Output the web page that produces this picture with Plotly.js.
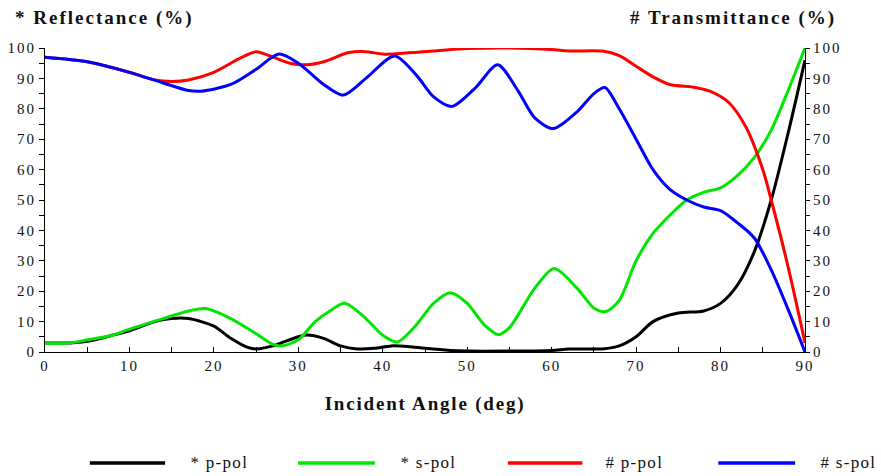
<!DOCTYPE html>
<html>
<head>
<meta charset="utf-8">
<script src="https://cdn.plot.ly/plotly-3.0.1.min.js"></script>
<style>
html,body{margin:0;padding:0;background:#fff;}
#chart{width:881px;height:476px;}
#chart g.xtick text, #chart g.ytick text, #chart g.y2tick text{letter-spacing:2px;}
#chart g.annotation text{letter-spacing:1.3px;}
#chart g.annotation.ttl text{letter-spacing:2px;}
#chart text.xtitle{letter-spacing:1.8px;}
</style>
</head>
<body>
<div id="chart"></div>
<script>
// Incident angle (deg)
const angP = [0,3,5,8,10,13,15,17,20,22,24,25,27,28,30,31,33,35,37,39,41,43,45,48,50,55,60,62,64,66,68,70,72,75,78,80,82,84,86,88,90];
const reflP = [3,3,3.5,5.5,7,10,11,11,8.5,4.5,1.5,1,2,3,5,5.6,4.5,2,1,1.2,2,1.8,1.2,0.5,0.3,0.3,0.5,1,1,1,2,5,10,12.8,13.5,16,22,33,50,72,96];

const angS = [0,3,5,8,10,14,17,19,22,25,27,28,30,32,34,35.5,38,40,41.7,44,46,48,50,52,53.7,55,58,60.3,63,65,66.4,68,70,72,74,76,78,80,82,84,86,88,90];
const reflS = [3,3,4,5.5,7.5,11,13.5,14.3,11,6,2.5,2,4,10,14,16,11,5.5,3.3,9,16,19.5,16,9,5.7,8,21,27.5,21,14.5,13.3,17,30,39,45,50,52.5,54,58,64,73,86,100];

const angTP = [0,5,10,13,15,17,20,23,25,27,29,31,33,36,38,40,42,46,50,55,60,62,66,68,70,72,74,77,79,81,83,85,86,88,90];
const transP = [97,95.5,92,89.5,89,89.5,92,96.5,98.8,97,95,94.5,95.5,98.5,98.8,98,98.2,99,99.8,100,99.5,99,99,97.5,94,90.5,88,87,85.5,82,74,60,50,28,3];

const angTS = [0,5,10,14,17,18.5,22,25,27.7,30,33,35.3,38,41.4,44,46,48.2,51,53.6,56,58,60.2,63,65,66.3,68,70,72,74,76,78,80,82,84,86,88,90];
const transS = [97,95.5,92,88.5,86,85.8,88,93,98,95,88,84.5,90,97.4,91,84,80.8,87,94.5,86,77,73.5,79,85,87,80,70,60,53.5,50,47.7,46.5,42.5,37.5,27,14,0];

const xTicks = [0,10,20,30,40,50,60,70,80,90];
const yTicks = [0,10,20,30,40,50,60,70,80,90,100];

const names = ['* p-pol','* s-pol','# p-pol','# s-pol'];
const colors = ['#000000','#00e600','#ff0000','#0000ff'];

const lw = 3;
const traces = [
  {x: angP, y: reflP, name: names[0], line:{color:colors[0], width:lw, shape:'spline', smoothing:0.8}},
  {x: angS, y: reflS, name: names[1], line:{color:colors[1], width:lw, shape:'spline', smoothing:0.8}},
  {x: angTP, y: transP, name: names[2], yaxis:'y2', line:{color:colors[2], width:lw, shape:'spline', smoothing:0.8}},
  {x: angTS, y: transS, name: names[3], yaxis:'y2', line:{color:colors[3], width:lw, shape:'spline', smoothing:0.8}}
].map(t => Object.assign({type:'scatter', mode:'lines', showlegend:false, hoverinfo:'skip'}, t));

const serif = 'Liberation Serif, Times New Roman, serif';
const tickFont = {family: serif, size: 15, color:'#111'};

// custom legend (long line samples) in paper coordinates
const legY = -0.365;
const legX = [[0.059,0.158,0.191],[0.333,0.434,0.467],[0.609,0.707,0.737],[0.886,0.987,1.020]];
const shapes = legX.map((p,i)=>({type:'line', xref:'paper', yref:'paper', x0:p[0], x1:p[1], y0:legY, y1:legY, line:{color:colors[i], width:3.5}}));
const annotations = legX.map((p,i)=>({xref:'paper', yref:'paper', x:p[2] + 0.004, y:legY, xanchor:'left', yanchor:'middle', text:names[i], showarrow:false, font:{family:serif, size:17, color:'#111'}}));
annotations.push({xref:'paper', yref:'paper', x:-0.020, y:1.099, xanchor:'left', yanchor:'middle', text:'<b>* Reflectance (%)</b>', showarrow:false, font:{family:serif, size:19, color:'#111'}});
annotations.push({xref:'paper', yref:'paper', x:1.019, y:1.099, xanchor:'right', yanchor:'middle', text:'<b># Transmittance (%)</b>', showarrow:false, font:{family:serif, size:19, color:'#111'}});

const layout = {
  width: 881, height: 476,
  margin: {l:45, r:76, t:48, b:124, pad:0},
  paper_bgcolor:'#fff', plot_bgcolor:'#fff',
  showlegend:false,
  xaxis: {
    range:[0,90], tickvals:xTicks, ticktext:xTicks.map(String),
    showgrid:false, zeroline:false, showline:true, linecolor:'#000', linewidth:1,
    ticks:'inside', ticklen:5, tickcolor:'#000', tickfont:tickFont,
    minor:{dtick:5, tick0:0, ticks:'inside', ticklen:5, tickcolor:'#000'},
    title:{text:'<b>Incident Angle (deg)</b>', font:{family:serif, size:19, color:'#111'}, standoff:23}
  },
  yaxis: {
    range:[0,100], tickvals:yTicks, ticktext:yTicks.map(String),
    showgrid:false, zeroline:false, showline:true, linecolor:'#000', linewidth:1,
    ticks:'outside', ticklen:5, tickcolor:'#000', tickfont:tickFont,
    minor:{dtick:5, tick0:0, ticks:'outside', ticklen:5, tickcolor:'#000'}
  },
  yaxis2: {
    range:[0,100], overlaying:'y', side:'right', tickvals:yTicks, ticktext:yTicks.map(String),
    showgrid:false, zeroline:false, showline:true, linecolor:'#000', linewidth:1,
    ticks:'outside', ticklen:4, tickcolor:'#000', tickfont:tickFont,
    minor:{dtick:5, tick0:0, ticks:'outside', ticklen:4, tickcolor:'#000'}
  },
  shapes: shapes,
  annotations: annotations
};

Plotly.newPlot('chart', traces, layout, {staticPlot:true, displayModeBar:false}).then(gd => {
  // mark the two title annotations for wider letter spacing
  const ann = gd.querySelectorAll('g.annotation');
  if (ann.length >= 6) { ann[4].classList.add('ttl'); ann[5].classList.add('ttl'); }
});
</script>
</body>
</html>
